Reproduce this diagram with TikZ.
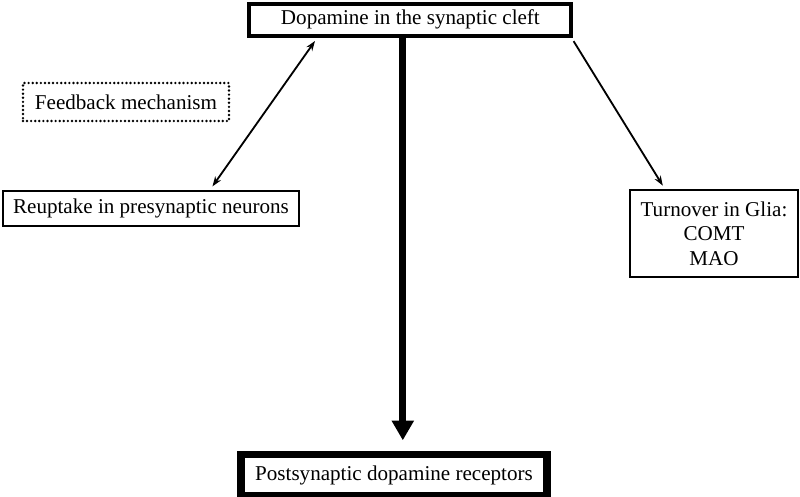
\documentclass[tikz,border=0pt]{standalone}
\usepackage{fontspec}
\setmainfont{Liberation Serif}
\usepackage{tikz}
\usetikzlibrary{arrows.meta}
\usetikzlibrary{calc}

\begin{document}
\begin{tikzpicture}[>={Stealth[length=7pt,width=5pt]}, scale=1,
box/.style={draw=black, inner sep=0, align=center, font=\fontsize{15}{17.5}\selectfont},
topbox/.style={box, line width=2.8pt},
thinbox/.style={box, line width=1.4pt},
bottombox/.style={box, line width=5pt},
feedbox/.style={box, line width=1.9pt, line cap=round, dash pattern=on 0pt off 2.9pt},
link/.style={line width=1.3pt, shorten <=3pt, shorten >=3pt},
mainlink/.style={line width=5pt, -{Triangle[width=15pt,length=14pt]}, shorten >=7.8pt}]

% SIZE OF THE PICTURE
\useasboundingbox (0,0) rectangle (20,12.4);
%%%%%%%%% BOXES %%%%%%%%%%%%%
\node[topbox, minimum width=8.05cm, minimum height=0.8cm] (cleft) at (10.26,11.91) {Dopamine in the synaptic cleft};
\node[feedbox, minimum width=5.15cm, minimum height=0.95cm] (feedback) at (3.15,9.85) {Feedback mechanism};
\node[thinbox, minimum width=7.4cm, minimum height=0.88cm] (reuptake) at (3.775,7.19) {Reuptake in presynaptic neurons};
\node[thinbox, minimum width=4.2cm, minimum height=2.17cm] (glia) at (17.85,6.56) {Turnover in Glia:\\COMT\\MAO};
\node[bottombox, minimum width=7.65cm, minimum height=1.02cm] (receptors) at (9.85,0.52) {Postsynaptic dopamine receptors};
%%%%%%%%% ARROWS %%%%%%%%%%%%
\draw[link, <->] ([xshift=1.75cm]cleft.south west) -- ([xshift=5.2cm]reuptake.north west);
\draw[link, ->] ([xshift=-0.05cm]cleft.south east) -- ([xshift=0.9cm]glia.north west);
\draw[mainlink] ([xshift=-0.19cm]cleft.south) -- ([xshift=-0.19cm]cleft.south |- receptors.north);
\end{tikzpicture}
\end{document}
